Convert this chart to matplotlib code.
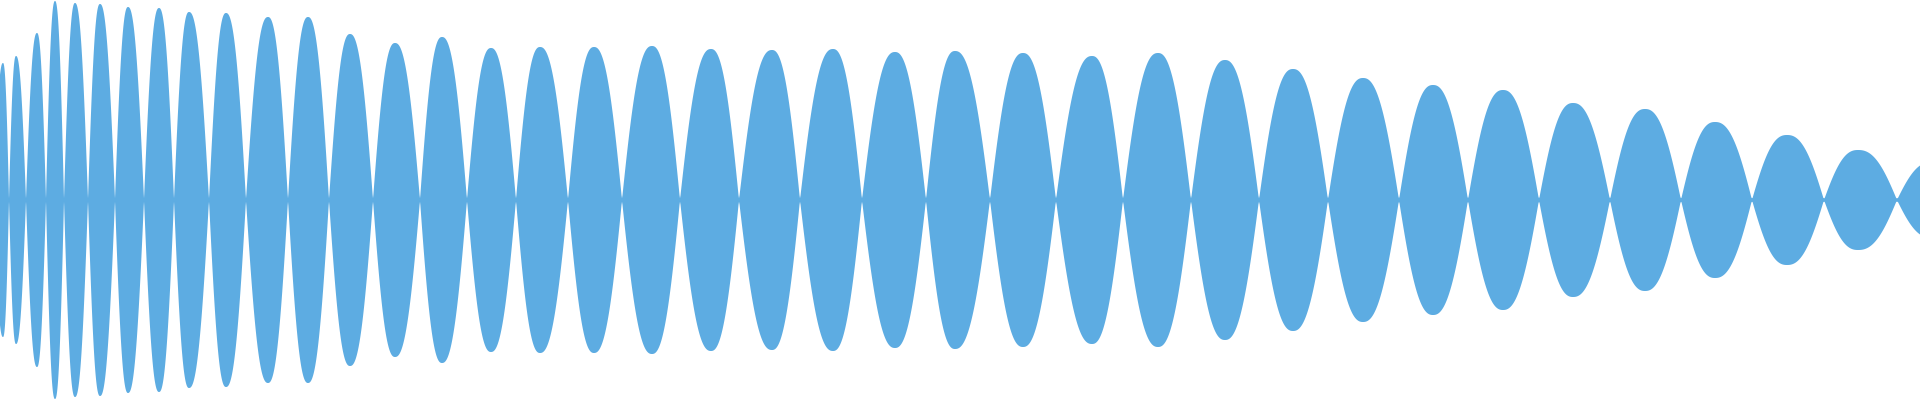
import numpy as np
from matplotlib import pyplot as plt

# waveform (x in pixels, amplitude in pixels from centre)
crossings = [-6, 9, 26, 46, 64, 88, 115, 144, 174, 209, 246, 288, 329, 373, 420,
             467, 516, 568, 622, 680, 739, 800, 862, 926, 990, 1056, 1123, 1191,
             1259, 1328, 1399, 1468, 1539, 1610, 1681, 1752, 1824, 1897, 1968]
peak_x = [3, 16, 37, 55, 75, 100, 128, 159, 189, 226, 268, 308, 350, 395, 442,
          491, 540, 594, 652, 711, 772, 833, 895, 955, 1023, 1092, 1158, 1225,
          1293, 1363, 1433, 1503, 1573, 1645, 1715, 1787, 1858, 1932]
peak_amp = [137, 144, 167, 199, 197, 196, 193, 192, 188, 187, 183, 183, 166, 157,
            163, 152, 153, 153, 154, 151, 150, 151, 148, 149, 147, 144, 147, 140,
            131, 122, 115, 110, 97, 91, 78, 65, 50, 38]

COLOR = '#5DACE2'
BASE = 1.8    # thin line that stays visible at the zero crossings
ROUND = 1.2   # >1 gives the slightly rounder tops seen in the picture


def lobe(a, p, b, amp):
    """envelope of one lobe: rises from a to the peak at p, falls to b"""
    up = np.linspace(a, p, 60)
    down = np.linspace(p, b, 60)[1:]
    w_up = (p - up) / (p - a)
    w_down = (down - p) / (b - p)
    y_up = amp * np.cos(0.5 * np.pi * w_up ** ROUND)
    y_down = amp * np.cos(0.5 * np.pi * w_down ** ROUND)
    return np.concatenate([up, down]), np.concatenate([y_up, y_down])


def main():
    xs, ys = [], []
    for i in range(len(peak_x)):
        x, y = lobe(crossings[i], peak_x[i], crossings[i + 1], peak_amp[i])
        xs.append(x)
        ys.append(y)
    x = np.concatenate(xs)
    y = np.maximum(np.concatenate(ys), BASE)

    fig = plt.figure(figsize=(19.2, 4), dpi=100)
    ax = fig.add_axes([0, 0, 1, 1])
    ax.fill_between(x, -y, y, color=COLOR, linewidth=0)
    ax.set_xlim(0, 1920)
    ax.set_ylim(-200, 200)
    ax.axis('off')
    fig.savefig('out.png', dpi=100, facecolor='white')


if __name__ == "__main__":
    main()
